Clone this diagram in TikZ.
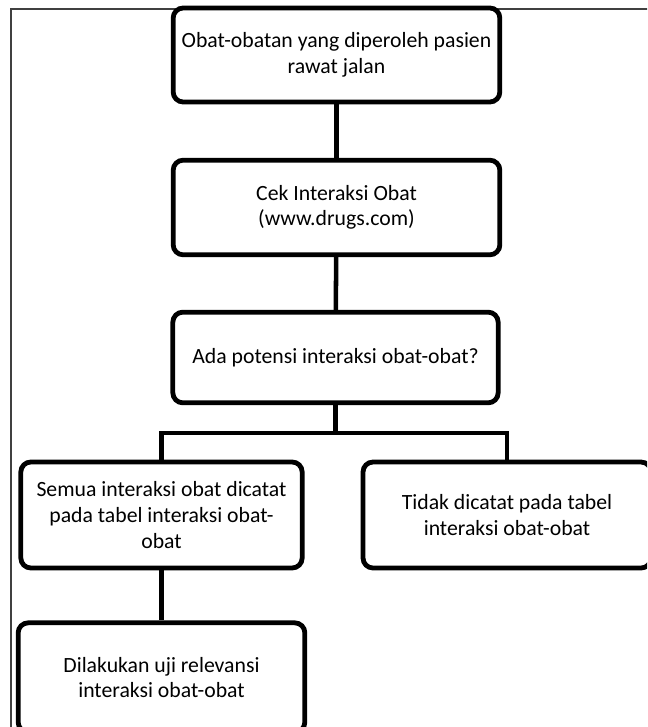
\documentclass[tikz,border=0pt]{standalone}
\usepackage{fontspec}
\setmainfont{Carlito}
\usepackage{tikz}
\usetikzlibrary{positioning,calc}
\tikzstyle{kotak}= [rectangle, draw, line width=3.6pt, rounded corners=7.5pt, inner sep=0pt, align=center, font=\fontsize{16.3pt}{19.2pt}\selectfont]
\tikzstyle{garis}= [line width=3.4pt]

\begin{document}
\begin{tikzpicture}[x=0.75pt, y=-0.75pt]
				\clip (0,0) rectangle (647,727);
				\fill[white] (0,0) rectangle (647,727);
				\draw[black!75, line width=0.9pt] (11,9) rectangle (700,800);
				\node[kotak, minimum width=245pt, minimum height=70.5pt] (obat) at (336.5, 55) {Obat-obatan yang diperoleh pasien\\rawat jalan};
				\node[kotak, minimum width=245pt, minimum height=71pt] (cek) at (336.5, 207.5) {Cek Interaksi Obat\\(www.drugs.com)};
				\node[kotak, minimum width=244pt, minimum height=68pt] (potensi) at (335.5, 357.5) {Ada potensi interaksi obat-obat?};
				\node[kotak, minimum width=211pt, minimum height=79.5pt] (catat) at (161.5, 515) {Semua interaksi obat dicatat\\pada tabel interaksi obat-\\obat};
				\node[kotak, minimum width=216pt, minimum height=79.5pt] (tidak) at (507, 515) {Tidak dicatat pada tabel\\interaksi obat-obat};
				\node[kotak, minimum width=215pt, minimum height=82pt] (uji) at (161.5, 677.5) {Dilakukan uji relevansi\\interaksi obat-obat};
				\coordinate (cabang) at (335.5, 433);
				\draw[garis] (obat) -- (cek);
				\draw[garis] (cek) -- (potensi);
				\draw[garis] (potensi) -- (cabang);
				\draw[garis] (catat) |- (cabang);
				\draw[garis] (cabang) -| (tidak);
				\draw[garis] (catat) -- (uji);
			\end{tikzpicture}
\end{document}
